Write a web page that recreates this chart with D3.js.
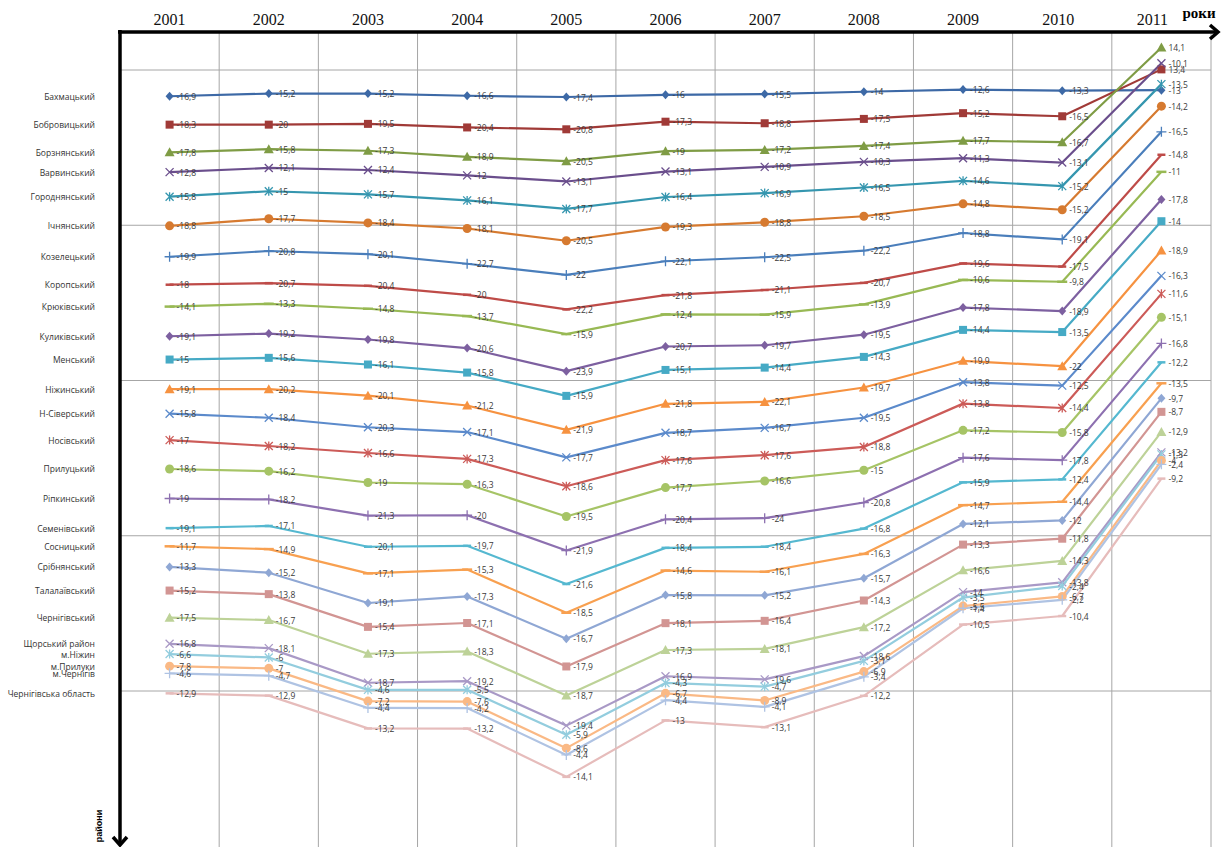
<!DOCTYPE html>
<html><head><meta charset="utf-8">
<script src="https://cdn.jsdelivr.net/npm/d3@7"></script>
<style>body{margin:0;background:#fff}svg{display:block}</style>
</head><body><svg id="c" width="1226" height="847"></svg>
<script>
// ---------- DATA ----------
const years = [2001,2002,2003,2004,2005,2006,2007,2008,2009,2010,2011];
const districts = ['Бахмацький','Бобровицький','Борзнянський','Варвинський','Городнянський','Ічнянський','Козелецький','Коропський','Крюківський','Куликівський','Менський','Ніжинський','Н-Сіверський','Носівський','Прилуцький','Ріпкинський','Семенівський','Сосницький','Срібнянський','Талалаївський','Чернігівський','Щорський район','м.Ніжин','м.Прилуки','м.Чернігів','Чернігівська область'];

const bakhmatskyi    = [-16.9,-15.2,-15.2,-16.6,-17.4,-16,-15.5,-14,-12.6,-13.3,-13];
const bobrovytskyi   = [-18.3,-20,-19.5,-20.4,-20.8,-17.3,-18.8,-17.5,-15.2,-16.5,13.4];
const borznianskyi   = [-17.8,-15.8,-17.3,-18.9,-20.5,-19,-17.2,-17.4,-17.7,-16.7,14.1];
const varvynskyi     = [-12.8,-12.1,-12.4,-12,-13.1,-13.1,-10.9,-10.3,-11.3,-13.1,-10.1];
const horodnianskyi  = [-15.8,-15,-15.7,-16.1,-17.7,-16.4,-16.9,-16.5,-14.6,-15.2,-13.5];
const ichnianskyi    = [-18.8,-17.7,-18.4,-18.1,-20.5,-19.3,-18.8,-18.5,-14.8,-15.2,-14.2];
const kozeletskyi    = [-19.9,-20.8,-20.1,-22.7,-22,-22.1,-22.5,-22.2,-18.8,-19.1,-16.5];
const koropskyi      = [-18,-20.7,-20.4,-20,-22.2,-21.8,-21.1,-20.7,-19.6,-17.5,-14.8];
const kriukivskyi    = [-14.1,-13.3,-14.8,-13.7,-15.9,-12.4,-15.9,-13.9,-10.6,-9.8,-11];
const kulykivskyi    = [-19.1,-19.2,-19.8,-20.6,-23.9,-20.7,-19.7,-19.5,-17.8,-18.9,-17.8];
const menskyi        = [-15,-15.6,-16.1,-15.8,-15.9,-15.1,-14.4,-14.3,-14.4,-13.5,-14];
const nizhynskyi     = [-19.1,-20.2,-20.1,-21.2,-21.9,-21.8,-22.1,-19.7,-19.9,-22,-18.9];
const nSiverskyi     = [-15.8,-18.4,-20.3,-17.1,-17.7,-18.7,-16.7,-19.5,-13.8,-12.5,-16.3];
const nosivskyi      = [-17,-18.2,-16.6,-17.3,-18.6,-17.6,-17.6,-18.8,-13.8,-14.4,-11.6];
const prylutskyi     = [-18.6,-16.2,-19,-16.3,-19.5,-17.7,-16.6,-15,-17.2,-15.8,-15.1];
const ripkynskyi     = [-19,-18.2,-21.3,-20,-21.9,-20.4,-24,-20.8,-17.6,-17.8,-16.8];
const semenivskyi    = [-19.1,-17.1,-20.1,-19.7,-21.6,-18.4,-18.4,-16.8,-15.9,-12.4,-12.2];
const sosnytskyi     = [-11.7,-14.9,-17.1,-15.3,-18.5,-14.6,-16.1,-16.3,-14.7,-14.4,-13.5];
const sribnianskyi   = [-13.3,-15.2,-19.1,-17.3,-16.7,-15.8,-15.2,-15.7,-12.1,-12,-9.7];
const talalaivskyi   = [-15.2,-13.8,-15.4,-17.1,-17.9,-18.1,-16.4,-14.3,-13.3,-11.8,-8.7];
const chernihivskyi  = [-17.5,-16.7,-17.3,-18.3,-18.7,-17.3,-18.1,-17.2,-16.6,-14.3,-12.9];
const shchorskyi     = [-16.8,-18.1,-18.7,-19.2,-19.4,-16.9,-19.6,-18.6,-14,-13.8,-13.2];
const mNizhyn        = [-6.6,-6,-4.6,-5.5,-5.9,-4.3,-4.7,-3.1,-3.5,-2.4,-1.3];
const mPryluky       = [-7.8,-7,-7.2,-7.6,-8.6,-6.7,-8.9,-6.9,-5.5,-6.7,-4];
const mChernihiv     = [-4.6,-4.7,-4.4,-4.2,-4.4,-4.4,-4.1,-3.4,-1.4,-2.2,-2.4];
const oblast         = [-12.9,-12.9,-13.2,-13.2,-14.1,-13,-13.1,-12.2,-10.5,-10.4,-9.2];

const seriesValues = [bakhmatskyi,bobrovytskyi,borznianskyi,varvynskyi,horodnianskyi,ichnianskyi,kozeletskyi,koropskyi,kriukivskyi,kulykivskyi,menskyi,nizhynskyi,nSiverskyi,nosivskyi,prylutskyi,ripkynskyi,semenivskyi,sosnytskyi,sribnianskyi,talalaivskyi,chernihivskyi,shchorskyi,mNizhyn,mPryluky,mChernihiv,oblast];
const gridValues = [0,-100,-200,-300,-400];

// ---------- STYLE ----------
const colors = ['#3D69A6','#A03A37','#7F9C45','#6A4E8C','#3596AF','#D67A30',
                '#4A7EBB','#BE4B48','#98B954','#7D60A0','#46AAC5','#F69240',
                '#5B8ACB','#CC5B58','#A6C466','#8D70B0','#55B8D0','#F8A050',
                '#8FA7D4','#D29593','#BDD298','#A999C6','#93CDDE','#FAB985','#AFC3E3','#E6BCBB'];
const markerCycle = ['diamond','square','triangle','x','star','circle','plus','dash','longdash'];

const svg = d3.select('#c');
const plotL = 120, plotR = 1211, axisY = 32;
const x = d3.scaleBand().domain(years).range([plotL, plotR]).padding(0);
const xc = d => x(d) + x.bandwidth()/2;
const y = d3.scaleLinear().domain([0,-500]).range([70, 846.25]);

// stacked cumulative values
const cum = [];
seriesValues.forEach((vals, i) => {
  cum.push(vals.map((v, j) => (i ? cum[i-1][j] : 0) + v));
});

// grid
const g = svg.append('g');
g.selectAll('.hg').data(gridValues).join('line')
  .attr('x1', plotL).attr('x2', plotR).attr('y1', d => y(d)).attr('y2', d => y(d))
  .attr('stroke', '#a6a6a6').attr('stroke-width', 1);
g.selectAll('.vg').data(years.slice(1)).join('line')
  .attr('x1', d => x(d)).attr('x2', d => x(d)).attr('y1', axisY).attr('y2', 847)
  .attr('stroke', '#a6a6a6').attr('stroke-width', 1);
g.append('line').attr('x1', plotR).attr('x2', plotR).attr('y1', axisY).attr('y2', 847)
  .attr('stroke', '#a6a6a6').attr('stroke-width', 1);

// series lines
const line = d3.line().x((d, j) => xc(years[j])).y(d => y(d));
const lines = svg.append('g');
cum.forEach((c, i) => {
  lines.append('path').attr('d', line(c)).attr('fill', 'none')
    .attr('stroke', colors[i]).attr('stroke-width', 2.2).attr('stroke-linejoin', 'round');
});

// markers
function drawMarker(sel, type, col) {
  if (type === 'diamond') sel.append('path').attr('d', 'M0,-4.5L4,0L0,4.5L-4,0Z').attr('fill', col);
  else if (type === 'square') sel.append('rect').attr('x', -4).attr('y', -4).attr('width', 8).attr('height', 8).attr('fill', col);
  else if (type === 'triangle') sel.append('path').attr('d', 'M0,-5L5,4L-5,4Z').attr('fill', col);
  else if (type === 'circle') sel.append('circle').attr('r', 4.5).attr('fill', col);
  else if (type === 'x') sel.append('path').attr('d', 'M-4,-4L4,4M4,-4L-4,4').attr('stroke', col).attr('stroke-width', 1.3);
  else if (type === 'star') sel.append('path').attr('d', 'M-4,-4L4,4M4,-4L-4,4M0,-4.5L0,4.5').attr('stroke', col).attr('stroke-width', 1.3);
  else if (type === 'plus') sel.append('path').attr('d', 'M-5,0L5,0M0,-5L0,5').attr('stroke', col).attr('stroke-width', 1.3);
  else if (type === 'dash') sel.append('path').attr('d', 'M-4,0L4,0').attr('stroke', col).attr('stroke-width', 2.5);
  else sel.append('path').attr('d', 'M-5,0L5,0').attr('stroke', col).attr('stroke-width', 2.5);
}
const mk = svg.append('g');
cum.forEach((c, i) => {
  c.forEach((v, j) => {
    const m = mk.append('g').attr('transform', `translate(${xc(years[j])},${y(v)})`);
    drawMarker(m, markerCycle[i % markerCycle.length], colors[i]);
  });
});

// data labels
const fmt = v => String(v).replace('.', ',');
const lab = svg.append('g').attr('font-family', '"Open Sans", "Noto Sans", sans-serif')
  .attr('font-size', 8.5).attr('fill', '#3a3a3a');
cum.forEach((c, i) => {
  c.forEach((v, j) => {
    lab.append('text').attr('x', xc(years[j]) + 7).attr('y', y(v) + 3.5).text(fmt(seriesValues[i][j]));
  });
});

// category labels (left)
svg.append('g').attr('font-family', '"Open Sans", "Noto Sans", sans-serif')
  .attr('font-size', 8.5).attr('fill', '#333').attr('text-anchor', 'end')
  .selectAll('text').data(districts).join('text')
  .attr('x', 95).attr('y', (d, i) => y(cum[i][0]) + 3.5).text(d => d);

// axes
const ax = d3.axisTop(x).tickSize(0).tickPadding(7);
const axG = svg.append('g').attr('transform', `translate(0,${axisY})`).call(ax);
axG.select('.domain').remove();
axG.selectAll('text').attr('font-family', '"Liberation Serif", "Times New Roman", serif')
  .attr('font-size', 16).attr('fill', '#111')
  .attr('dx', d => d === 2011 ? -9 : (d === 2010 ? -4 : 0));

svg.append('line').attr('x1', plotL - 2).attr('x2', 1217).attr('y1', axisY).attr('y2', axisY)
  .attr('stroke', '#000').attr('stroke-width', 3.5);
svg.append('path').attr('d', `M1210,${axisY-7}L1218,${axisY}L1210,${axisY+7}`).attr('fill', 'none')
  .attr('stroke', '#000').attr('stroke-width', 3.5);
svg.append('line').attr('x1', plotL).attr('x2', plotL).attr('y1', axisY - 2).attr('y2', 844)
  .attr('stroke', '#000').attr('stroke-width', 3.5);
svg.append('path').attr('d', `M${plotL-7},837L${plotL},845L${plotL+7},837`).attr('fill', 'none')
  .attr('stroke', '#000').attr('stroke-width', 3.5);

svg.append('text').attr('x', 1199).attr('y', 18).attr('text-anchor', 'middle')
  .attr('font-family', '"Liberation Serif", serif').attr('font-weight', 'bold').attr('font-size', 15)
  .text('роки');
svg.append('text').attr('transform', 'translate(102,826) rotate(-90)').attr('text-anchor', 'middle')
  .attr('font-family', '"Liberation Sans", sans-serif').attr('font-weight', 'bold').attr('font-size', 9)
  .text('райони');
</script></body></html>
